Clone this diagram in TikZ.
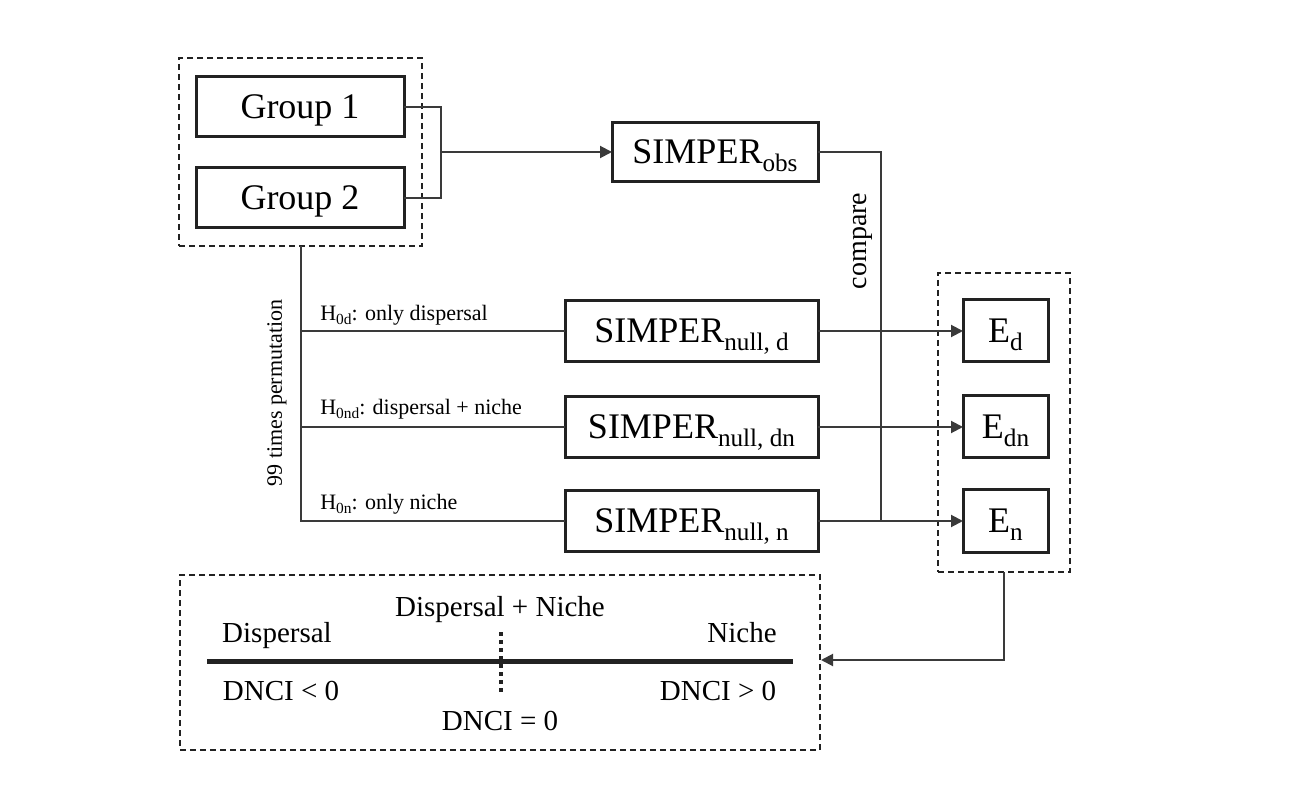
\documentclass[tikz,border=0pt]{standalone}
\usepackage{fontspec}
\setmainfont{Liberation Serif}
\usetikzlibrary{arrows.meta}
\newcommand\pxu{0.75pt}
\makeatletter
\newcommand\sbs[1]{\raisebox{-0.2em}{\fontsize{\fpeval{0.7*\f@size}}{1}\selectfont #1}}
\makeatother
\definecolor{boxc}{HTML}{222222}
\definecolor{linec}{HTML}{3A3A3A}
\begin{document}
\begin{tikzpicture}[x=0.75pt,y=-0.75pt,
  solidbox/.style={draw=boxc,line width=2.25pt,inner sep=0pt,outer sep=0pt,font=\fontsize{27}{32}\selectfont,text height=17.9pt,text depth=0pt},
  dashbox/.style={draw=boxc,line width=1.5pt,dash pattern=on 4.5pt off 3pt,inner sep=0pt,outer sep=0pt},
  conn/.style={draw=linec,line width=1.5pt},
  arr/.style={conn,-{Triangle[length=9pt,width=9pt]}},
  lab/.style={font=\fontsize{16.5}{20}\selectfont,inner sep=0pt,text height=10.9pt,text depth=0pt},
  blab/.style={font=\fontsize{21.75}{26}\selectfont,inner sep=0pt,text height=14.4pt,text depth=0pt}]
\useasboundingbox (0,0) rectangle (1306,787);
% top group
\node[dashbox,minimum width=243*\pxu,minimum height=188*\pxu] (grp) at (300.5,152) {};
\node[solidbox,minimum width=208*\pxu,minimum height=60*\pxu] (g1) at (300,107) {Group 1};
\node[solidbox,minimum width=208*\pxu,minimum height=60*\pxu] (g2) at (300,198) {Group 2};
\node[solidbox,minimum width=206*\pxu,minimum height=59*\pxu] (obs) at (715,152) {SIMPER\sbs{obs}};
% null boxes
\node[solidbox,minimum width=253*\pxu,minimum height=61*\pxu] (nd) at (691.5,331) {SIMPER\sbs{null, d}};
\node[solidbox,minimum width=253*\pxu,minimum height=61*\pxu] (ndn) at (691.5,427) {SIMPER\sbs{null, dn}};
\node[solidbox,minimum width=253*\pxu,minimum height=61*\pxu] (nn) at (691.5,521) {SIMPER\sbs{null, n}};
% E boxes
\node[dashbox,minimum width=132*\pxu,minimum height=299*\pxu] (ebox) at (1004,422.5) {};
\node[solidbox,minimum width=85*\pxu,minimum height=62*\pxu] (Ed) at (1005.5,331) {E\sbs{d}};
\node[solidbox,minimum width=85*\pxu,minimum height=62*\pxu] (Edn) at (1005.5,427) {E\sbs{dn}};
\node[solidbox,minimum width=85*\pxu,minimum height=62*\pxu] (En) at (1005.5,521) {E\sbs{n}};
% bottom box
\node[dashbox,minimum width=640*\pxu,minimum height=175*\pxu] (bot) at (500,662.5) {};
% connectors
\coordinate (j) at (441,152);
\draw[conn] (g1.east) -| (j) |- (g2.east);
\draw[arr] (j) -- (obs.west);
\coordinate (c) at (881,521);
\draw[conn] (obs.east) -| (c);
\node[rotate=90,font=\fontsize{21}{25}\selectfont,inner sep=0pt] (cmp) at (863,241) {compare};
\draw[conn] (grp.south) |- (nn.west);
\draw[conn] (grp.south |- nd.west) -- (nd.west);
\draw[conn] (grp.south |- ndn.west) -- (ndn.west);
\node[rotate=90,font=\fontsize{16.5}{20}\selectfont,inner sep=0pt] (perm) at (277,393) {99 times permutation};
\node[lab,anchor=west] (h1) at (320,313) {H\sbs{0d}: only dispersal};
\node[lab,anchor=west] (h2) at (320,407) {H\sbs{0nd}: dispersal + niche};
\node[lab,anchor=west] (h3) at (320,502) {H\sbs{0n}: only niche};
\draw[arr] (nd.east) -- (Ed.west);
\draw[arr] (ndn.east) -- (Edn.west);
\draw[arr] (nn.east) -- (En.west);
\coordinate (bend) at (1004,660);
\coordinate (bin) at (821,660);
\draw[arr] (ebox.south) -- (bend) -- (bin);
% scale
\coordinate (sl) at (207,661);
\coordinate (sr) at (793,661);
\draw[draw=boxc,line width=3.75pt] (sl) -- (sr);
\coordinate (dt) at (501,632);
\coordinate (db) at (501,692);
\draw[draw=boxc,line width=3pt,dash pattern=on 3pt off 3pt] (dt) -- (db);
\node[blab] (t1) at (500,607) {Dispersal + Niche};
\node[blab] (t2) at (277,633) {Dispersal};
\node[blab] (t3) at (742,633) {Niche};
\node[blab] (t4) at (281,691) {DNCI < 0};
\node[blab] (t5) at (718,691) {DNCI > 0};
\node[blab] (t6) at (500,721) {DNCI = 0};
\end{tikzpicture}
\end{document}
